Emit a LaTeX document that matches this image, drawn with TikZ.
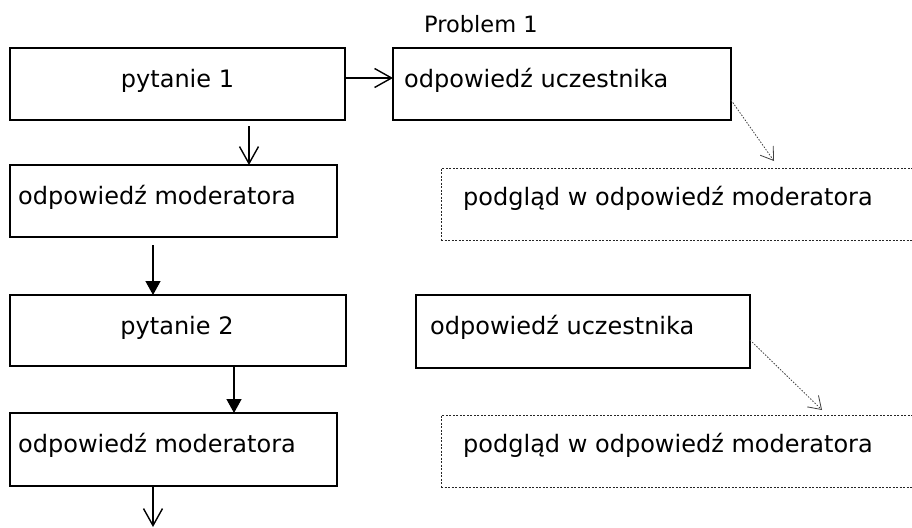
\documentclass[tikz,border=0pt]{standalone}
\usepackage{fontspec}
\setmainfont{DejaVu Sans}
\usetikzlibrary{arrows.meta,calc}
\begin{document}
\begin{tikzpicture}[x=1pt,y=-1pt,
  box/.style={draw, line width=1.4pt, inner sep=0pt, outer sep=0pt, anchor=north west},
  dbox/.style={draw=black!85, line width=0.8pt, dash pattern=on 2pt off 1.5pt, inner sep=0pt, outer sep=0pt, anchor=north west},
  lbl/.style={inner sep=0pt, anchor=base west, font=\fontsize{24}{28}\selectfont},
  clbl/.style={inner sep=0pt, anchor=base, font=\fontsize{24}{28}\selectfont},
  ttl/.style={inner sep=0pt, anchor=base west, font=\fontsize{22.5}{26}\selectfont},
  openarr/.style={line width=1.4pt, -{Straight Barb[length=17pt,width=19pt,line width=1.4pt]}},
  fillarr/.style={line width=1.4pt, -{Triangle[length=14pt,width=15pt]}},
  dotarr/.style={draw=black!75, line width=0.8pt, dash pattern=on 1.5pt off 1.5pt, -{Straight Barb[length=12pt,width=16pt,line width=0.8pt,sep=0pt]}}
]
\useasboundingbox (0,0) rectangle (912,527);
\fill[white] (0,0) rectangle (912,527);

% boxes
\node[box, minimum width=335pt, minimum height=72pt] (p1) at (10,48) {};
\node[box, minimum width=338pt, minimum height=72pt] (u1) at (393,48) {};
\node[box, minimum width=327pt, minimum height=72pt] (m1) at (10,165) {};
\node[dbox, minimum width=480pt, minimum height=72pt] (d1) at (441,168) {};
\node[box, minimum width=336pt, minimum height=71pt] (p2) at (10,295) {};
\node[box, minimum width=334pt, minimum height=73pt] (u2) at (416,295) {};
\node[box, minimum width=327pt, minimum height=73pt] (m2) at (10,413) {};
\node[dbox, minimum width=480pt, minimum height=72pt] (d2) at (441,415) {};

% texts
\node[ttl] (title) at (424,33) {Problem 1};
\node[clbl] (tp1) at (177.5,87) {pytanie 1};
\node[lbl] (tu1) at (404,87) {odpowiedź uczestnika};
\node[lbl] (tm1) at (18,204) {odpowiedź moderatora};
\node[lbl] (td1) at (463,205) {podgląd w odpowiedź moderatora};
\node[clbl] (tp2) at (177,334) {pytanie 2};
\node[lbl] (tu2) at (430,334) {odpowiedź uczestnika};
\node[lbl] (tm2) at (18,452) {odpowiedź moderatora};
\node[lbl] (td2) at (463,452) {podgląd w odpowiedź moderatora};

% connectors
\draw[openarr] ([yshift=6pt]p1.east) -- ([yshift=6pt]u1.west);
\draw[openarr] ($(p1.south west)+(239,6)$) coordinate (s1) -- (s1 |- m1.north);
\draw[fillarr] ($(m1.south west)+(143,8)$) coordinate (s2) -- (s2 |- p2.north);
\draw[fillarr] ($(p2.south west)+(224,0)$) coordinate (s3) -- (s3 |- m2.north);
\coordinate (e4) at (153,527);
\draw[openarr] ($(m2.south west)+(143,0)$) -- (e4);
\draw[dotarr] ($(u1.north east)+(0,52)$) -- ($(d1.north west)+(333,-7)$);
\draw[dotarr] ($(u2.north east)+(0,45)$) -- ($(d2.north west)+(381,-5)$);
\end{tikzpicture}
\end{document}
